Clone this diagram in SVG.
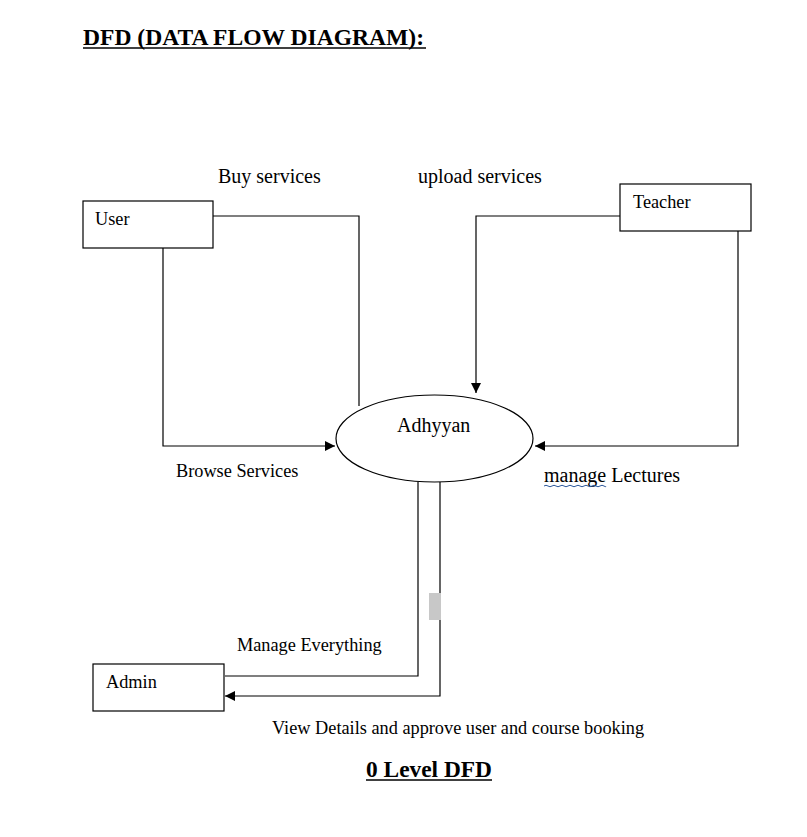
<svg xmlns="http://www.w3.org/2000/svg" width="807" height="837" viewBox="0 0 807 837">
<style>
  text { font-family: "Liberation Serif", "Times New Roman", serif; fill: #000; }
  .lbl { font-size: 18.3px; }
  .big { font-size: 20px; }
  .bold { font-size: 23.5px; font-weight: bold; }
  .box { fill: #fff; stroke: #000; stroke-width: 1.2; }
  .ln { fill: none; stroke: #000; stroke-width: 1.2; }
</style>
<defs>
  <marker id="arr" markerWidth="10" markerHeight="10" refX="10" refY="5" orient="auto" markerUnits="userSpaceOnUse">
    <path d="M0,0 L10,5 L0,10 Z" fill="#000"/>
  </marker>
</defs>
<rect width="807" height="837" fill="#fff"/>

<g id="title">
  <text class="bold" x="83" y="45" textLength="341" lengthAdjust="spacingAndGlyphs">DFD (DATA FLOW DIAGRAM):</text>
  <line x1="83" y1="48" x2="426" y2="48" stroke="#000" stroke-width="1.6"/>
</g>

<g id="connectors">
  <polyline class="ln" points="213,216 359,216 359,406"/>
  <polyline class="ln" points="163,248 163,446 335,446" marker-end="url(#arr)"/>
  <polyline class="ln" points="620,216 476,216 476,393" marker-end="url(#arr)"/>
  <polyline class="ln" points="738,231 738,446 535,446" marker-end="url(#arr)"/>
  <polyline class="ln" points="418,482 418,676 225,676"/>
  <polyline class="ln" points="440,482 440,696 225,696" marker-end="url(#arr)"/>
  <rect x="429" y="593" width="12" height="27" fill="#c8c8c8"/>
</g>

<g id="labels">
  <text class="big" x="218" y="183">Buy services</text>
  <text class="big" x="418" y="183">upload services</text>
  <text class="lbl" x="176" y="477">Browse Services</text>
  <text class="big" x="544" y="482">manage Lectures</text>
  <path d="M544,486 q2,-1.5 4,0 t4,0 t4,0 t4,0 t4,0 t4,0 t4,0 t4,0 t4,0 t4,0 t4,0 t4,0 t4,0 t4,0 t4,0 t2,0" fill="none" stroke="#2b579a" stroke-width="1"/>
  <text class="lbl" x="237" y="651">Manage Everything</text>
  <text class="lbl" x="272" y="734">View Details and approve user and course booking</text>
</g>

<g id="user">
  <rect class="box" x="83" y="201" width="130" height="47"/>
  <text class="lbl" x="95" y="225">User</text>
</g>

<g id="teacher">
  <rect class="box" x="620" y="184" width="131" height="47"/>
  <text class="lbl" x="633" y="208">Teacher</text>
</g>

<g id="adhyyan">
  <ellipse class="box" cx="434.5" cy="438.5" rx="98.5" ry="43.5"/>
  <text class="big" x="397" y="432">Adhyyan</text>
</g>

<g id="admin">
  <rect class="box" x="93" y="664" width="131" height="47"/>
  <text class="lbl" x="106" y="688">Admin</text>
</g>

<g id="footer">
  <text class="bold" x="366" y="777" textLength="126" lengthAdjust="spacingAndGlyphs">0 Level DFD</text>
  <line x1="366" y1="780" x2="492" y2="780" stroke="#000" stroke-width="1.6"/>
</g>
</svg>
